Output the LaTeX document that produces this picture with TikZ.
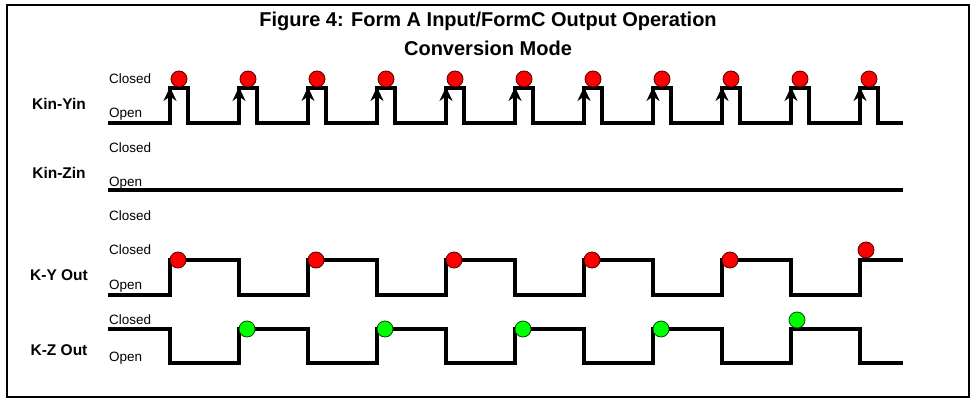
\documentclass[tikz,border=0pt]{standalone}
\usepackage{fontspec}
\setmainfont{Liberation Sans}
\usetikzlibrary{arrows.meta}
\begin{document}
\begin{tikzpicture}[x=1pt,y=-1pt,
  sig/.style={line width=3.3pt,line join=miter},
  lbl/.style={anchor=west,font=\fontsize{13.5}{13.5}\selectfont,inner sep=0},
  rowlbl/.style={font=\bfseries\fontsize{15.5}{15.5}\selectfont,inner sep=0},
  rdot/.style={circle,draw=black!70!red,fill=red,minimum size=16pt,inner sep=0,line width=0.8pt},
  gdot/.style={circle,draw=black!70!green,fill=green,minimum size=16pt,inner sep=0,line width=0.8pt},
  trig/.style={line width=2.4pt,-{Stealth[length=14pt,width=13pt]}}]
\useasboundingbox (0,0) rectangle (976,409);
\draw[line width=2.6pt] (7,5) rectangle (969,397);
\node[font=\bfseries\fontsize{20}{20}\selectfont] (t1) at (488,21) {Figure 4: Form A Input/FormC Output Operation};
\node[font=\bfseries\fontsize{20}{20}\selectfont] (t2) at (488,48) {Conversion Mode};
% labels
\node[lbl] (c1) at (109,79) {Closed};
\node[lbl] (o1) at (109,114) {Open};
\node[lbl] (c2) at (109,148) {Closed};
\node[lbl] (o2) at (109,183) {Open};
\node[lbl] (c3) at (109,216) {Closed};
\node[lbl] (c4) at (109,250) {Closed};
\node[lbl] (o4) at (109,286) {Open};
\node[lbl] (c5) at (109,320) {Closed};
\node[lbl] (o5) at (109,358) {Open};
\node[rowlbl] (r1) at (59,104) {Kin-Yin};
\node[rowlbl] (r2) at (59,173) {Kin-Zin};
\node[rowlbl] (r3) at (59,275) {K-Y Out};
\node[rowlbl] (r4) at (59,350) {K-Z Out};
% Kin-Yin
\draw[sig] (108,123)
  \foreach \i in {0,...,10} { -- ({170+69*\i},123) -- ({170+69*\i},88) -- ({188+69*\i},88) -- ({188+69*\i},123) } -- (903,123);
\foreach \i in {0,...,10} {
  \draw[trig] ({170+69*\i},123) -- ({170+69*\i},87);
  \node[rdot] (p\i) at ({179+69*\i},79) {};
}
% Kin-Zin
\draw[sig] (108,190) -- (903,190);
% K-Y
\draw[sig] (108,295)
  \foreach \i in {0,...,4} { -- ({170+138*\i},295) -- ({170+138*\i},260) -- ({239+138*\i},260) -- ({239+138*\i},295) } -- (860,295) -- (860,260) -- (903,260);
\foreach \i in {0,...,4} { \node[rdot] (y\i) at ({178+138*\i},260) {}; }
\node[rdot] (y5) at (866,250) {};
% K-Z
\draw[sig] (108,329)
  \foreach \i in {0,...,4} { -- ({170+138*\i},329) -- ({170+138*\i},363) -- ({239+138*\i},363) -- ({239+138*\i},329) } -- (860,329) -- (860,363) -- (903,363);
\foreach \i in {0,...,3} { \node[gdot] (z\i) at ({247+138*\i},329) {}; }
\node[gdot] (z4) at (797,320) {};
\end{tikzpicture}
\end{document}
